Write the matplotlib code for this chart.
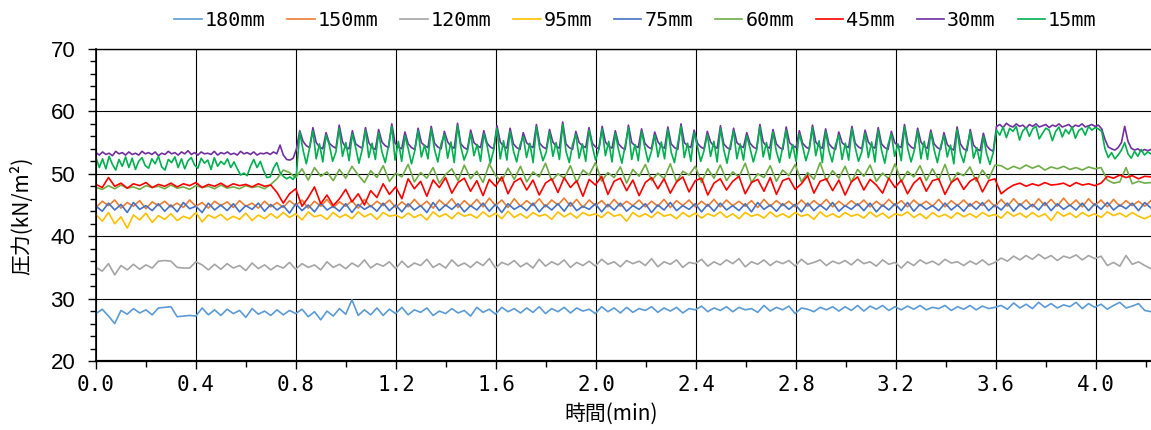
import matplotlib.pyplot as plt
import numpy as np
from matplotlib.ticker import MultipleLocator

# pressure readings (kN/m2), sampled evenly over 0 - 4.22 min
p180 = [
    27.6, 28.3, 27.2, 26.0, 28.1, 27.5, 28.4, 27.7, 28.2, 27.4,
    28.5, 28.6, 28.7, 27.1, 27.2, 27.3, 27.2, 28.5, 27.4, 28.2,
    27.3, 28.3, 27.6, 28.1, 27.0, 28.4, 27.5, 28.0, 27.3, 28.2,
    27.4, 28.1, 27.6, 28.3, 27.1, 27.9, 26.6, 28.0, 27.2, 28.4,
    27.5, 29.8, 27.3, 28.2, 27.4, 28.5, 27.3, 28.3, 27.6, 28.6,
    27.4, 28.2, 27.8, 28.5, 27.3, 28.0, 27.6, 28.4, 27.7, 28.1,
    27.2, 28.6, 27.8, 28.3, 27.5, 28.6, 27.9, 28.4, 27.7, 28.5,
    27.8, 28.7, 27.6, 28.4, 27.9, 28.6, 27.7, 28.5, 28.0, 28.3,
    27.6, 28.7, 27.9, 28.5, 27.7, 28.6, 27.8, 28.4, 28.1, 28.7,
    27.8, 28.5, 28.0, 28.6, 27.7, 28.4, 28.2, 28.8, 27.9, 28.5,
    28.1, 28.7, 27.9, 28.6, 28.2, 28.4, 27.8, 28.9, 28.0, 28.6,
    28.2, 28.8, 27.6, 28.5, 28.3, 27.9, 28.6, 28.2, 28.7, 28.0,
    28.7, 28.1, 28.9, 28.0, 28.8, 28.3, 28.9, 28.1, 28.7, 28.2,
    28.8, 28.3, 28.9, 28.2, 28.6, 28.4, 28.9, 28.1, 28.7, 28.3,
    28.9, 28.2, 28.8, 28.4, 28.6, 28.9, 28.3, 29.3, 28.5, 29.1,
    28.4, 29.4, 28.6, 29.2, 28.5, 29.0, 28.7, 29.4, 28.4, 29.2,
    28.6, 29.1, 28.3, 28.9, 29.4, 28.5, 28.8, 29.2, 28.1, 27.9,
]
p150 = [
    44.6, 45.6, 44.9, 45.8, 44.5, 45.4, 44.8, 45.7, 44.4, 45.5,
    44.9, 45.6, 44.7, 45.3, 44.6, 45.8, 44.8, 45.4, 44.5, 45.6,
    44.9, 45.5, 44.6, 45.7, 44.8, 45.3, 44.5, 45.6, 44.7, 45.4,
    44.6, 45.7, 44.9, 45.8, 44.5, 45.6, 44.8, 45.9, 44.6, 45.5,
    44.8, 45.7, 44.5, 45.9, 44.7, 45.6, 44.9, 45.8, 44.6, 45.5,
    44.7, 45.9, 44.8, 45.6, 44.5, 45.8, 44.9, 46.0, 44.6, 45.7,
    44.8, 45.9, 44.7, 46.1, 44.9, 45.8, 44.6, 46.0, 44.8, 45.7,
    44.9, 46.0, 44.7, 45.8, 45.0, 46.1, 44.8, 45.9, 44.6, 45.8,
    44.9, 45.7, 44.7, 45.9, 44.8, 45.6, 44.9, 45.8, 44.7, 45.6,
    44.8, 45.9, 44.6, 45.7, 44.9, 45.8, 44.7, 45.6, 44.8, 45.9,
    44.7, 45.8, 44.9, 45.6, 44.8, 45.7, 44.6, 45.9, 44.8, 45.7,
    44.9, 45.6, 44.7, 45.8, 44.8, 45.7, 44.9, 45.9, 44.7, 45.6,
    44.8, 45.7, 44.9, 45.8, 44.7, 45.6, 44.8, 45.9, 44.9, 45.7,
    44.7, 45.8, 44.9, 45.6, 44.8, 45.9, 44.7, 45.7, 44.9, 45.8,
    44.8, 45.6, 44.9, 45.8, 44.7, 45.9, 44.8, 46.0, 44.9, 45.8,
    44.7, 46.0, 44.9, 45.9, 44.8, 46.1, 44.9, 45.8, 44.7, 46.0,
    44.9, 45.8, 44.7, 45.9, 44.8, 45.7, 44.9, 45.6, 44.8, 45.7,
]
p120 = [
    35.0, 34.4, 35.6, 33.8, 35.3, 34.6, 35.5, 34.7, 35.4, 34.9,
    36.0, 36.1, 36.0, 35.0, 34.9, 34.9, 35.9, 35.4, 34.6, 35.5,
    34.7, 35.6, 34.9, 35.3, 34.5, 35.7, 34.8, 35.4, 34.6, 35.3,
    34.9, 35.8, 34.7, 35.6, 35.0, 35.4, 34.6, 35.9, 35.0, 35.5,
    34.8, 35.7, 35.1, 36.2, 34.9, 35.6, 35.2, 35.9, 34.8, 36.0,
    35.0, 35.7, 35.3, 36.3, 35.0, 35.6, 34.9, 36.2, 35.2, 35.7,
    35.0, 35.9, 35.3, 36.4, 34.9, 35.8, 35.4, 36.1, 35.1, 35.7,
    34.9, 36.3, 35.2, 35.9, 35.4, 36.2, 35.0, 35.8, 35.3, 36.0,
    35.2, 36.3, 35.5, 35.9, 35.1, 36.1, 35.6, 36.0, 35.3, 36.4,
    35.1, 35.9, 35.5, 36.2, 35.0, 35.8, 35.6, 36.3, 35.2, 35.9,
    35.4, 36.2, 35.6, 36.4, 35.1, 35.9, 35.5, 36.2, 35.3, 36.0,
    35.6, 36.1, 35.2, 36.3, 35.5, 35.8, 36.2, 35.3, 36.0, 35.6,
    36.1, 35.4, 36.3, 35.6, 35.9, 35.2, 36.2, 35.5, 35.8, 34.9,
    35.9, 35.3, 36.2, 35.6, 36.0, 35.4, 36.3, 35.7, 35.9, 35.3,
    36.0, 35.5, 36.2, 35.4, 35.8, 36.5, 36.0, 36.8, 36.2, 36.9,
    36.3, 37.1, 36.4, 36.9, 36.1, 36.8, 36.5, 37.0, 36.2, 36.9,
    36.4, 36.8, 35.3, 35.8, 35.2, 36.9, 35.5, 35.9, 35.3, 34.8,
]
p95 = [
    43.5, 42.4, 43.8, 42.0, 43.1, 41.3, 43.4, 42.6, 43.7, 42.2,
    43.3, 42.7, 43.6, 42.5, 43.2, 42.8, 43.8, 42.3, 43.4, 42.9,
    43.5, 42.6, 43.2, 42.7, 43.7, 42.5, 43.4, 42.8, 43.6, 42.9,
    43.8, 43.0, 43.6, 42.6, 43.9, 43.1, 43.4, 42.7, 43.8, 43.0,
    43.5, 42.8, 43.9, 43.1, 43.6, 42.7, 43.8, 43.2, 43.4, 42.9,
    43.7, 43.0, 43.5, 42.6, 43.9, 43.1, 43.6, 42.8, 43.8, 43.2,
    43.5, 42.9, 43.9, 43.1, 43.7, 42.8, 44.0, 43.0, 43.6, 42.9,
    43.8, 43.2, 43.5, 42.7, 43.9, 43.1, 43.7, 42.9, 43.8, 43.3,
    43.6, 43.0, 43.9, 43.2, 43.5, 42.4, 43.8, 43.1, 43.6, 43.0,
    43.9, 43.2, 43.5, 42.8, 43.8, 43.1, 43.7, 42.9, 43.6, 43.2,
    43.9, 43.0, 43.6, 42.8, 43.8, 43.2, 43.5, 42.9, 43.9, 43.1,
    43.6, 43.0, 43.8, 43.2, 43.5, 42.7, 43.9, 43.1, 43.6, 43.0,
    43.8, 43.2, 43.5, 42.9, 43.9, 43.1, 43.7, 42.9, 43.6, 43.3,
    43.9, 43.0, 43.6, 42.8, 43.8, 43.1, 43.5, 42.9, 43.8, 43.1,
    43.6, 43.0, 43.8, 43.2, 43.5, 42.9, 43.9, 43.2, 43.7, 43.0,
    43.8, 43.1, 43.6, 42.5, 43.9, 43.2, 43.7, 43.0, 43.8, 43.2,
    43.6, 43.0, 43.9, 43.3, 43.7, 43.1, 43.8, 43.2, 42.8, 43.3,
]
p75 = [
    44.8, 44.0, 45.3, 44.2, 45.1, 43.8, 45.4, 44.3, 44.9, 44.1,
    45.2, 44.0, 45.0, 43.9, 45.4, 44.4, 44.8, 43.8, 45.3, 44.2,
    45.0, 44.1, 45.2, 43.9, 44.9, 44.3, 45.3, 44.0, 45.1, 44.2,
    44.9, 43.7, 45.2, 44.1, 45.0, 43.9, 45.3, 44.2, 44.8, 44.0,
    45.2, 43.8, 45.1, 44.3, 44.9, 44.0, 45.3, 44.1, 45.0, 43.9,
    45.2, 44.2, 44.9, 43.8, 45.4, 44.1, 45.0, 44.3, 45.2, 43.9,
    44.9, 44.2, 45.3, 44.0, 45.1, 43.8, 45.2, 44.3, 44.9, 44.1,
    45.3, 43.9, 45.0, 44.2, 45.2, 44.0, 45.4, 44.1, 44.8, 44.3,
    45.2, 43.9, 45.1, 44.2, 45.3, 44.0, 44.9, 44.3, 45.2, 43.8,
    45.0, 44.2, 45.4, 44.1, 44.9, 44.3, 45.2, 43.9, 45.1, 44.0,
    45.3, 44.2, 44.9, 44.1, 45.2, 43.9, 45.4, 44.3, 45.0, 44.0,
    45.2, 44.3, 45.1, 43.9, 45.3, 44.1, 45.0, 44.2, 45.4, 44.0,
    44.9, 44.3, 45.2, 44.1, 45.3, 43.9, 45.0, 44.2, 45.2, 44.1,
    45.4, 44.0, 45.1, 44.3, 44.9, 44.1, 45.3, 44.2, 45.0, 44.0,
    45.2, 44.3, 45.4, 44.1, 45.0, 44.2, 45.3, 44.0, 45.2, 44.3,
    45.1, 44.2, 45.4, 44.1, 45.2, 44.3, 45.0, 44.2, 45.3, 44.1,
    45.2, 44.3, 45.4, 44.2, 45.0, 44.4, 45.3, 44.1, 45.4, 44.5,
]
p60 = [
    47.8, 47.5, 48.1, 47.6, 48.2, 47.7, 47.9, 47.5, 48.1, 47.8,
    48.0, 47.6, 48.2, 47.7, 47.9, 47.5, 48.1, 47.8, 48.0, 47.6,
    48.2, 47.7, 47.9, 47.6, 48.1, 47.8, 48.0, 47.6, 48.3, 49.2,
    50.6, 50.2, 49.4, 50.8, 49.0, 51.0, 49.6, 50.3, 48.9, 50.7,
    49.3, 51.2, 49.8, 48.6, 50.5, 49.4, 51.3, 48.8, 50.1, 49.5,
    51.5, 48.7, 50.2, 49.3, 51.0, 48.5, 49.9, 50.8, 48.9, 51.4,
    49.2, 50.4, 48.6, 51.6, 49.7, 48.8, 50.9, 49.1, 51.2, 48.7,
    50.3, 49.5, 51.7, 48.9, 50.0, 49.3, 51.3, 48.6, 50.6, 49.8,
    51.8, 48.8, 50.2, 49.4, 51.1, 48.5, 50.7, 49.6, 51.5, 48.9,
    50.1, 49.2, 51.6, 48.7, 50.4, 49.8, 51.2, 48.6, 50.8, 49.3,
    51.4, 48.9, 50.3, 49.5, 51.7, 48.6, 50.0, 49.4, 51.3, 48.8,
    50.6, 49.7, 51.5, 48.7, 50.2, 49.1, 51.8, 48.9, 50.5, 49.3,
    51.2, 48.6, 50.7, 49.6, 51.4, 48.8, 50.1, 49.2, 51.6, 48.7,
    50.4, 49.5, 51.3, 48.9, 50.8, 49.0, 51.5, 48.6, 50.2, 49.7,
    51.1, 48.8, 50.6, 49.2, 51.4, 51.3, 50.7, 51.2, 50.8, 51.4,
    50.9, 51.3, 50.6, 51.1, 50.8, 51.2, 50.7, 51.0, 50.6, 51.1,
    50.8, 51.0, 49.0, 48.5, 48.7, 51.0, 48.4, 48.8, 48.5, 48.6,
]
p45 = [
    48.3, 47.8, 49.4, 48.0, 48.5, 47.7, 48.4, 48.1, 48.6, 47.8,
    48.3, 48.0, 48.5, 47.9, 48.4, 48.1, 48.6, 47.8, 48.3, 48.0,
    48.5, 47.9, 48.4, 48.1, 48.3, 47.9, 48.4, 48.0, 48.2, 47.0,
    45.3, 46.8, 47.6, 44.8, 46.2, 47.9, 45.2, 46.6, 44.9, 46.0,
    47.5, 45.5, 46.8, 45.0, 47.3, 46.2, 48.4, 46.7, 47.9, 46.0,
    49.2, 47.6, 48.8, 46.4, 49.0, 47.8, 49.4, 46.9, 48.6, 49.3,
    47.2, 48.9, 46.5, 49.1, 48.0, 49.5, 46.8, 48.7, 49.3, 47.4,
    49.0, 46.6, 48.5, 49.2, 47.0, 49.4, 47.8, 48.9, 46.4, 49.1,
    48.2, 49.6, 46.7, 48.8, 49.3, 47.3, 49.0, 46.5, 48.6, 49.4,
    47.6, 49.2, 46.9, 48.7, 49.5, 47.1, 48.9, 49.3, 46.6, 48.5,
    49.2, 47.4, 48.8, 49.6, 46.8, 48.6, 49.1, 47.2, 49.4, 46.7,
    48.9, 49.3, 47.5, 48.4, 49.7, 46.9, 48.8, 49.2, 47.3, 49.0,
    46.6, 48.7, 49.5, 47.4, 49.1, 48.2, 46.9, 49.3, 47.8, 49.0,
    46.8, 48.5, 49.4, 47.2, 48.9, 49.2, 46.7, 48.6, 49.3, 47.5,
    48.8, 49.4, 47.1, 48.9, 49.2, 46.8, 47.6, 48.2, 48.5, 48.0,
    48.4, 48.1, 48.6, 48.2, 48.3, 48.5, 48.0, 48.6, 48.2, 48.4,
    48.1, 48.5, 49.6, 49.3, 49.8, 49.4, 49.7, 49.2, 49.6, 49.5,
]
p30 = [
    53.4, 53.0, 53.5, 53.1, 53.3, 52.9, 53.6, 53.2, 53.4, 53.0,
    53.5, 53.1, 53.3, 53.0, 53.6, 53.2, 53.4, 53.1, 53.5, 52.9,
    53.3, 53.1, 53.6, 53.2, 53.4, 53.0, 53.5, 53.2, 53.7, 53.1,
    53.4, 53.0, 53.5, 53.2, 53.3, 53.1, 53.6, 53.0, 53.4, 53.2,
    53.5, 53.1, 53.3, 53.0, 53.6, 53.2, 53.4, 53.1, 53.5, 53.0,
    53.3, 53.2, 53.4, 53.1, 53.5, 53.2, 54.6, 53.0, 52.3, 52.2,
    52.5, 54.0,
    56.9, 55.2, 54.5, 54.2, 57.4, 55.0, 54.3, 54.0, 56.6, 54.9, 54.4, 54.1,
    57.8, 55.1, 54.2, 54.0, 56.9, 54.8, 54.4, 54.1, 57.4, 55.0, 54.2, 53.9,
    57.1, 55.1, 54.5, 54.2, 58.0, 54.9, 54.3, 54.0, 56.7, 54.8, 54.2, 53.9,
    57.3, 55.0, 54.5, 54.2, 57.6, 54.9, 54.3, 54.0, 56.8, 55.1, 54.4, 54.1,
    58.1, 54.8, 54.2, 53.9, 57.0, 55.0, 54.5, 54.2, 56.9, 54.9, 54.3, 54.0,
    57.7, 55.1, 54.4, 54.1, 57.3, 54.8, 54.2, 53.9, 56.6, 55.0, 54.5, 54.2,
    57.9, 54.9, 54.3, 54.0, 57.1, 55.1, 54.4, 54.1, 58.3, 54.8, 54.2, 53.9,
    56.8, 55.0, 54.5, 54.2, 57.4, 54.9, 54.3, 54.0, 57.6, 55.1, 54.4, 54.1,
    56.9, 54.8, 54.2, 53.9, 57.8, 55.0, 54.5, 54.2, 57.2, 54.9, 54.3, 54.0,
    56.7, 55.1, 54.4, 54.1, 57.5, 54.8, 54.2, 53.9, 58.0, 55.0, 54.5, 54.2,
    57.0, 54.9, 54.3, 54.0, 56.8, 55.1, 54.4, 54.1, 57.7, 54.8, 54.2, 53.9,
    57.3, 55.0, 54.5, 54.2, 56.6, 54.9, 54.3, 54.0, 57.9, 55.1, 54.4, 54.1,
    57.1, 54.8, 54.2, 53.9, 57.5, 55.0, 54.5, 54.2, 56.9, 54.9, 54.3, 54.0,
    57.8, 55.1, 54.4, 54.1, 57.2, 54.8, 54.2, 53.9, 56.7, 55.0, 54.5, 54.2,
    57.6, 54.9, 54.3, 54.0, 57.0, 55.1, 54.4, 54.1, 57.4, 54.8, 54.2, 53.9,
    56.8, 55.0, 54.5, 54.2, 57.9, 54.9, 54.3, 54.0, 57.3, 55.1, 54.4, 54.1,
    57.0, 54.8, 54.2, 53.9, 56.6, 54.7, 54.1, 53.8, 57.5, 54.8, 54.0, 53.7,
    57.1, 54.6, 54.0, 53.7, 56.5, 54.5, 53.9, 53.6,
    57.6, 57.9, 57.4, 58.1, 57.7, 57.5, 58.0, 57.6, 57.8, 57.3,
    57.9, 57.6, 58.0, 57.5, 57.7, 57.9, 57.4, 57.8, 57.6, 58.0,
    57.5, 57.7, 57.9, 57.4, 57.8, 57.6, 58.0, 57.5, 57.7, 57.9,
    57.6, 57.8, 57.2,
    55.5, 54.3, 54.0, 53.8, 54.2, 55.0, 57.6, 55.2, 54.1, 53.8,
    54.0, 53.6, 53.9, 53.7, 53.9,
]
p15 = [
    52.6, 51.0, 52.4, 50.8, 52.8, 51.5, 50.6, 52.3, 51.2, 52.7,
    51.0, 52.5, 50.7, 52.0, 52.6, 51.3, 50.9, 52.4, 51.6, 52.8,
    51.1, 50.6, 52.3, 51.8, 52.7, 51.0, 52.4, 50.8, 52.1, 52.6,
    51.4, 50.9, 52.5, 51.7, 52.2, 50.7, 52.6, 51.2, 52.0, 51.5,
    52.4, 51.0, 51.9, 50.8, 49.8, 50.1, 49.7, 51.2, 52.3, 51.0,
    52.0, 50.5, 49.4, 49.5, 50.9, 51.8, 50.2, 49.6, 49.2, 49.5,
    49.1, 50.0,
    56.7, 53.8, 51.6, 54.2, 56.9, 52.4, 54.8, 51.9, 56.2, 54.6, 52.0, 53.5,
    57.3, 52.8, 55.0, 52.1, 56.4, 54.2, 51.7, 53.9, 57.0, 52.6, 54.9, 52.3,
    56.6, 53.5, 51.8, 54.4, 57.6, 52.2, 55.2, 52.0, 56.1, 54.0, 51.6, 53.7,
    56.9, 52.7, 54.6, 52.4, 57.2, 53.9, 51.9, 54.8, 56.3, 52.5, 55.1, 51.8,
    57.7, 54.3, 52.2, 53.6, 56.5, 52.9, 54.7, 52.0, 56.4, 54.5, 51.7, 53.8,
    57.3, 52.4, 55.3, 52.2, 56.8, 53.7, 51.9, 54.6, 56.0, 52.6, 54.9, 51.8,
    57.5, 54.1, 52.1, 53.5, 56.7, 52.8, 55.0, 52.3, 57.9, 53.6, 51.8, 54.7,
    56.3, 52.5, 54.8, 52.0, 57.0, 54.4, 52.2, 53.9, 57.2, 52.9, 55.2, 51.9,
    56.5, 53.8, 51.7, 54.5, 57.4, 52.3, 54.7, 52.1, 56.8, 54.2, 51.9, 53.6,
    56.2, 52.7, 55.1, 52.4, 57.1, 53.5, 51.8, 54.8, 57.6, 52.6, 54.9, 52.0,
    56.6, 54.3, 52.0, 53.7, 56.3, 52.8, 55.2, 51.9, 57.3, 53.9, 51.7, 54.6,
    56.9, 52.4, 54.8, 52.2, 56.1, 54.1, 51.9, 53.8, 57.5, 52.7, 55.0, 52.3,
    56.7, 53.6, 51.8, 54.5, 57.0, 52.5, 54.7, 52.0, 56.4, 54.4, 52.1, 53.9,
    57.4, 52.9, 55.3, 51.8, 56.8, 53.7, 51.9, 54.6, 56.2, 52.3, 54.9, 52.2,
    57.2, 54.2, 52.0, 53.5, 56.5, 52.6, 55.1, 51.9, 57.0, 53.8, 51.7, 54.7,
    56.4, 52.8, 54.8, 52.1, 57.5, 54.0, 51.9, 53.8, 56.9, 52.4, 55.2, 52.3,
    56.6, 53.9, 51.8, 54.4, 56.1, 52.7, 54.6, 51.6, 57.1, 53.4, 51.8, 54.3,
    56.7, 52.5, 54.2, 51.7, 56.0, 53.2, 51.5, 53.4,
    57.0, 56.2, 57.5, 55.8, 57.3, 56.8, 57.6, 55.4, 56.9, 57.4,
    56.0, 57.2, 57.6, 55.6, 56.5, 57.3, 57.0, 55.3, 56.8, 57.5,
    55.9, 57.1, 56.4, 57.5, 55.7, 56.9, 57.3, 56.2, 57.6, 57.0,
    57.4, 57.2, 56.8,
    54.0, 52.6, 53.4, 52.4, 53.0, 53.8, 55.0, 53.2, 52.5, 53.6,
    52.8, 53.9, 53.0, 53.5, 53.2,
]

labels = ['180mm', '150mm', '120mm', '95mm', '75mm', '60mm', '45mm', '30mm', '15mm']
colors = ['#5B9BD5', '#ED7D31', '#A5A5A5', '#FFC000', '#4472C4',
          '#70AD47', '#FF0000', '#7030A0', '#00B050']
series = [p180, p150, p120, p95, p75, p60, p45, p30, p15]
t_end = 4.22

fig = plt.figure(figsize=(11.51, 4.30), dpi=100)
ax = fig.add_axes([96 / 1151, 1 - 361 / 430, 1055 / 1151, 312 / 430])

for vals, lab, col in zip(series, labels, colors):
    t = np.linspace(0, t_end, len(vals))
    ax.plot(t, vals, color=col, lw=1.2, label=lab)

ax.set_xlim(0, t_end)
ax.set_ylim(20, 70)
xt = np.arange(0, 4.01, 0.4)
ax.set_xticks(xt)
ax.set_xticklabels(['%.1f' % v for v in xt], fontfamily='DejaVu Sans Mono', fontsize=15)
ax.xaxis.set_minor_locator(MultipleLocator(0.2))
yt = np.arange(20, 71, 10)
ax.set_yticks(yt)
ax.set_yticklabels([str(v) for v in yt], fontfamily='Liberation Sans', fontsize=16)
ax.yaxis.set_minor_locator(MultipleLocator(2))
ax.tick_params(which='major', direction='out', length=6, width=1)
ax.tick_params(axis='x', which='major', pad=4)
ax.tick_params(axis='y', which='major', pad=9)
ax.tick_params(which='minor', direction='out', length=4, width=1)
ax.grid(which='major', color='black', lw=0.8)

ax.spines['right'].set_visible(False)
ax.spines['bottom'].set_linewidth(1.6)
ax.spines['left'].set_linewidth(1.2)
ax.spines['top'].set_linewidth(1.0)

ax.set_xlabel('時間(min)', fontfamily=['Noto Sans CJK JP', 'DejaVu Sans'], fontsize=15)
ax.set_ylabel('圧力(kN/m²)', fontfamily=['Noto Sans CJK JP', 'DejaVu Sans'], fontsize=15)
ax.xaxis.set_label_coords(0.488, -0.135)
ax.yaxis.set_label_coords(-0.060, 0.465)

leg = fig.legend(loc='center', bbox_to_anchor=(0.552, 0.953), ncol=9, frameon=False,
                 prop={'family': 'DejaVu Sans Mono', 'size': 14.5},
                 handlelength=1.35, handletextpad=0.15, columnspacing=1.1)
for h in leg.get_lines():
    h.set_linewidth(1.2)

fig.savefig('out.png', dpi=100)
